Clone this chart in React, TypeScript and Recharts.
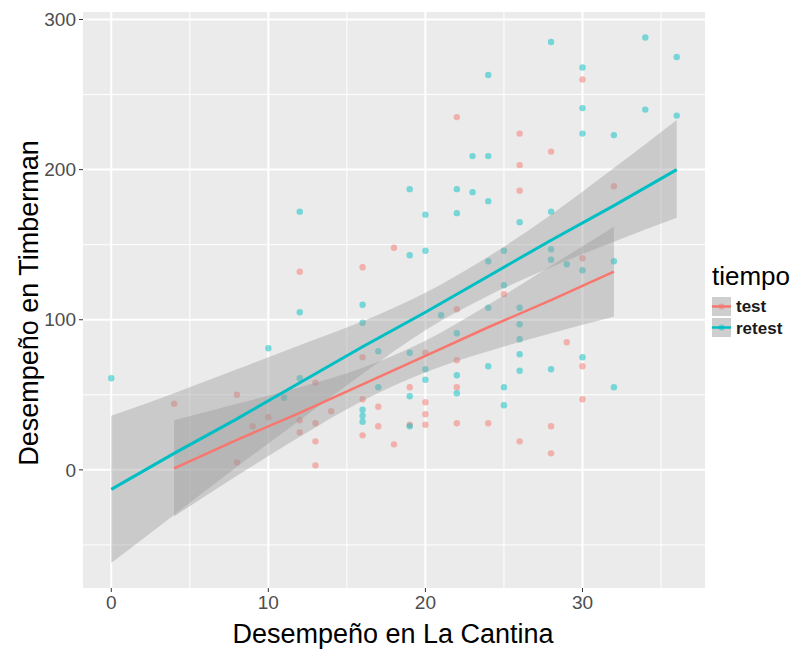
import React from 'react';
import { ComposedChart, Scatter, Line, Area, XAxis, YAxis, CartesianGrid } from 'recharts';

// Observed points: test (red)
const testX = [4, 8, 8, 9, 10, 12, 12, 12, 13, 13, 13, 13, 14, 16, 16, 16, 16, 17, 17, 18, 18, 19, 19, 20, 20, 20, 20, 22, 22, 22, 22, 22, 24, 25, 26, 26, 26, 26, 28, 28, 28, 29, 30, 30, 30, 30, 32];
const testY = [44, 50, 5, 29, 35, 132, 25, 33, 58, 31, 19, 3, 39, 135, 75, 47, 23, 42, 29, 148, 17, 55, 30, 45, 37, 30, 78, 235, 107, 73, 55, 31, 31, 117, 224, 203, 186, 19, 212, 29, 11, 85, 260, 141, 69, 47, 189];

// Observed points: retest (teal)
const retestX = [0, 10, 11, 12, 12, 12, 16, 16, 16, 16, 16, 17, 17, 19, 19, 19, 19, 19, 20, 20, 20, 20, 21, 22, 22, 22, 22, 22, 23, 23, 24, 24, 24, 24, 24, 24, 25, 25, 25, 25, 26, 26, 26, 26, 26, 26, 28, 28, 28, 28, 28, 29, 30, 30, 30, 30, 30, 32, 32, 32, 34, 34, 36, 36];
const retestY = [61, 81, 48, 172, 105, 61, 110, 98, 40, 36, 32, 79, 55, 187, 143, 78, 49, 29, 170, 146, 67, 60, 103, 187, 171, 91, 63, 51, 209, 185, 263, 209, 179, 139, 108, 69, 146, 123, 55, 43, 165, 108, 97, 87, 77, 66, 285, 172, 147, 140, 67, 137, 268, 241, 224, 133, 75, 223, 139, 55, 288, 240, 275, 236];

// Fitted lines and confidence bands
const bandX = [0, 4, 8, 12, 16, 20, 24, 28, 32, 36];
const retestFit = [-13, 11, 34, 58, 82, 105, 129, 153, 176, 200];
const retestLow = [-62, -30, 2, 33, 64, 93, 116, 135, 152, 168];
const retestHigh = [36, 51, 67, 83, 99, 118, 142, 170, 201, 233];
const testFit = [null, 1, 20, 38, 57, 76, 95, 113, 132, null];
const testLow = [null, -31, -4, 22, 46, 65, 79, 91, 102, null];
const testHigh = [null, 33, 44, 55, 68, 86, 110, 136, 162, null];

const xTicks = [0, 10, 20, 30];
const xMinor = [5, 15, 25, 35];
const yTicks = [0, 100, 200, 300];
const yMinor = [-50, 50, 150, 250];

const RED = '#F8766D';
const TEAL = '#00BFC4';
const FONT = '"Liberation Sans", Arial, Helvetica, sans-serif';
const X_DOMAIN: [number, number] = [-1.8, 37.8];
const Y_DOMAIN: [number, number] = [-78.7, 305];
const MARGIN = { top: 12, right: 102, bottom: 0, left: 0 };

const bandData = bandX.map((x, i) => ({
  x,
  retestFit: retestFit[i],
  retestBand: [retestLow[i], retestHigh[i]],
  testFit: testFit[i],
  testBand: testLow[i] == null ? null : [testLow[i], testHigh[i]],
}));
const testPts = testX.map((x, i) => ({ x, y: testY[i] }));
const retestPts = retestX.map((x, i) => ({ x, y: retestY[i] }));

const dot = (color: string) => (p: any) => (
  <circle cx={p.cx} cy={p.cy} r={3.2} fill={color} fillOpacity={0.5} />
);

const layer: React.CSSProperties = { position: 'absolute', left: 0, top: 0 };

export default function App() {
  return (
    <div style={{ position: 'absolute', left: 0, top: 0, width: 807, height: 654, background: '#fff' }}>
      {/* bottom layer: panel, grid, axes and points */}
      <div style={layer}>
        <ComposedChart width={807} height={654} margin={MARGIN}>
          <CartesianGrid fill="#EBEBEB" fillOpacity={1} stroke="#FFFFFF" strokeWidth={1}
            verticalValues={xMinor} horizontalValues={yMinor} />
          <CartesianGrid stroke="#FFFFFF" strokeWidth={2}
            verticalValues={xTicks} horizontalValues={yTicks} />
          <XAxis dataKey="x" type="number" domain={X_DOMAIN} ticks={xTicks} allowDataOverflow
            height={66} axisLine={false} tickSize={4} tickMargin={4}
            tickLine={{ stroke: '#333333' }}
            tick={{ fill: '#4D4D4D', fontSize: 19, fontFamily: FONT }} />
          <YAxis type="number" domain={Y_DOMAIN} ticks={yTicks} allowDataOverflow
            width={83} axisLine={false} tickSize={4} tickMargin={3}
            tickLine={{ stroke: '#333333' }}
            tick={{ fill: '#4D4D4D', fontSize: 19, fontFamily: FONT }} />
          <Scatter data={testPts} dataKey="y" shape={dot(RED)} isAnimationActive={false} />
          <Scatter data={retestPts} dataKey="y" shape={dot(TEAL)} isAnimationActive={false} />
        </ComposedChart>
      </div>
      {/* top layer: confidence bands and fitted lines drawn over the points */}
      <div style={layer}>
        <ComposedChart width={807} height={654} data={bandData} margin={MARGIN}>
          <XAxis dataKey="x" type="number" domain={X_DOMAIN} ticks={xTicks} allowDataOverflow
            height={66} axisLine={false} tickLine={false} tick={false} />
          <YAxis type="number" domain={Y_DOMAIN} ticks={yTicks} allowDataOverflow
            width={83} axisLine={false} tickLine={false} tick={false} />
          <Area dataKey="testBand" type="monotone" stroke="none" fill="#999999" fillOpacity={0.4}
            isAnimationActive={false} />
          <Area dataKey="retestBand" type="monotone" stroke="none" fill="#999999" fillOpacity={0.4}
            isAnimationActive={false} />
          <Line dataKey="testFit" stroke={RED} strokeWidth={2.5} dot={false} activeDot={false}
            isAnimationActive={false} />
          <Line dataKey="retestFit" stroke={TEAL} strokeWidth={3} dot={false} activeDot={false}
            isAnimationActive={false} />
        </ComposedChart>
      </div>
      <svg width={807} height={654} style={{ ...layer, pointerEvents: 'none' }} fontFamily={FONT}>
        <text x={393} y={643} textAnchor="middle" fontSize={27} fill="#000">Desempeño en La Cantina</text>
        <text transform="translate(38,303) rotate(-90)" textAnchor="middle" fontSize={27} fill="#000">Desempeño en Timberman</text>
        <text x={712} y={285} fontSize={26} fill="#000">tiempo</text>
        <rect x={712} y={297} width={19} height={19} fill="#F2F2F2" />
        <rect x={712} y={297} width={19} height={19} fill="#999999" fillOpacity={0.4} />
        <circle cx={721.5} cy={306.5} r={3} fill={RED} fillOpacity={0.5} />
        <line x1={712} x2={731} y1={306.5} y2={306.5} stroke={RED} strokeWidth={2.5} />
        <rect x={712} y={318} width={19} height={19} fill="#F2F2F2" />
        <rect x={712} y={318} width={19} height={19} fill="#999999" fillOpacity={0.4} />
        <circle cx={721.5} cy={327.5} r={3} fill={TEAL} fillOpacity={0.5} />
        <line x1={712} x2={731} y1={327.5} y2={327.5} stroke={TEAL} strokeWidth={2.5} />
        <text x={736} y={312} fontSize={17} fontWeight="bold" fill="#1A1A1A">test</text>
        <text x={736} y={334} fontSize={17} fontWeight="bold" fill="#1A1A1A">retest</text>
      </svg>
    </div>
  );
}
